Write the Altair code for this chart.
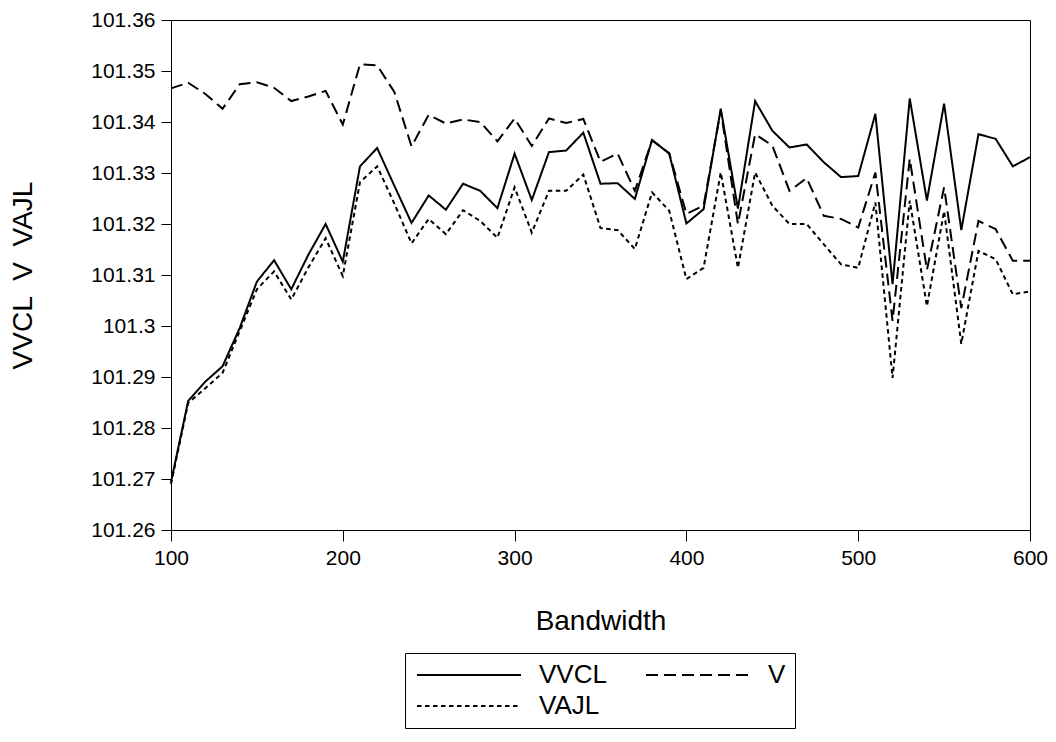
import altair as alt
import pandas as pd

bandwidth = [100, 110, 120, 130, 140, 150, 160, 170, 180, 190,
             200, 210, 220, 230, 240, 250, 260, 270, 280, 290,
             300, 310, 320, 330, 340, 350, 360, 370, 380, 390,
             400, 410, 420, 430, 440, 450, 460, 470, 480, 490,
             500, 510, 520, 530, 540, 550, 560, 570, 580, 590, 600]

vvcl = [101.2694, 101.2853, 101.2891, 101.2921, 101.2996, 101.3087, 101.3129, 101.3072, 101.3140, 101.3200,
        101.3126, 101.3313, 101.3349, 101.3275, 101.3202, 101.3256, 101.3228, 101.3279, 101.3265, 101.3231,
        101.3338, 101.3247, 101.3341, 101.3344, 101.3379, 101.3279, 101.3280, 101.3249, 101.3365, 101.3338,
        101.3201, 101.3229, 101.3426, 101.3230, 101.3441, 101.3383, 101.3350, 101.3356, 101.3321, 101.3292,
        101.3294, 101.3416, 101.3082, 101.3446, 101.3246, 101.3436, 101.3188, 101.3376, 101.3367, 101.3313,
        101.3331]

v = [101.3466, 101.3477, 101.3455, 101.3426, 101.3474, 101.3478, 101.3467, 101.3441, 101.3450, 101.3461,
     101.3395, 101.3513, 101.3511, 101.3459, 101.3352, 101.3414, 101.3397, 101.3405, 101.3400, 101.3362,
     101.3407, 101.3353, 101.3407, 101.3398, 101.3406, 101.3322, 101.3338, 101.3265, 101.3364, 101.3339,
     101.3220, 101.3236, 101.3423, 101.3200, 101.3376, 101.3354, 101.3265, 101.3290, 101.3216, 101.3210,
     101.3193, 101.3301, 101.3010, 101.3328, 101.3110, 101.3272, 101.3035, 101.3206, 101.3190, 101.3128,
     101.3128]

vajl = [101.2690, 101.2849, 101.2878, 101.2908, 101.2990, 101.3072, 101.3107, 101.3052, 101.3115, 101.3172,
        101.3098, 101.3282, 101.3313, 101.3240, 101.3162, 101.3210, 101.3180, 101.3227, 101.3206, 101.3173,
        101.3272, 101.3183, 101.3265, 101.3265, 101.3297, 101.3192, 101.3188, 101.3151, 101.3262, 101.3226,
        101.3092, 101.3114, 101.3301, 101.3114, 101.3301, 101.3236, 101.3200, 101.3200, 101.3160, 101.3121,
        101.3114, 101.3242, 101.2898, 101.3246, 101.3039, 101.3225, 101.2965, 101.3147, 101.3131, 101.3062,
        101.3068]

series_names = ["VVCL", "V", "VAJL"]
# legend is filled column by column: VVCL / VAJL in column 1, V in column 2
legend_order = ["VVCL", "VAJL", "V"]
legend_dashes = [[1, 0], [4.5, 3.5], [12, 6]]
x_ticks = [100, 200, 300, 400, 500, 600]
y_ticks = [101.26, 101.27, 101.28, 101.29, 101.30, 101.31, 101.32, 101.33, 101.34, 101.35, 101.36]

rows = []
for name, vals in zip(series_names, [vvcl, v, vajl]):
    for b, val in zip(bandwidth, vals):
        rows.append({"series": name, "bandwidth": b, "value": val})
df = pd.DataFrame(rows)

FONT = "Liberation Sans"
NB = "\u00a0"

chart = alt.Chart(df).mark_line(strokeWidth=2, color="black").encode(
    x=alt.X(
        "bandwidth:Q",
        scale=alt.Scale(domain=[100, 600], nice=False, zero=False),
        axis=alt.Axis(
            values=x_ticks, title="Bandwidth", grid=False, tickSize=11,
            labelPadding=6, labelFontSize=21, labelFlush=False, labelOverlap=False,
            titleFontSize=28, titleFontWeight="normal", titleX=429.5, titleY=91,
            titleBaseline="middle", titleAlign="center",
        ),
    ),
    y=alt.Y(
        "value:Q",
        scale=alt.Scale(domain=[101.26, 101.36], nice=False, zero=False),
        axis=alt.Axis(
            values=y_ticks, format=".5~r", title=f"VVCL{NB}{NB}V{NB}{NB}VAJL", grid=False,
            tickSize=10, labelPadding=6, labelFontSize=21, labelFlush=False,
            labelOverlap=False, titleFontSize=28, titleFontWeight="normal",
            titleX=-148, titleY=255, titleAngle=270, titleAlign="center",
            titleBaseline="middle",
        ),
    ),
    strokeDash=alt.StrokeDash(
        "series:N",
        scale=alt.Scale(domain=legend_order, range=legend_dashes),
        legend=alt.Legend(
            title=None, orient="none", legendX=234, legendY=633, columns=2,
            values=legend_order,
            symbolType="M-1,0H9.4", symbolSize=400, symbolStrokeWidth=2,
            symbolStrokeColor="black", labelFontSize=26, labelFont=FONT,
            labelColor="black", labelOffset=99, columnPadding=35, rowPadding=5,
            padding=9, strokeColor="black", fillColor="white", labelLimit=0,
        ),
    ),
).properties(
    width=859,
    height=510,
    autosize=alt.AutoSizeParams(type="none"),
    padding={"left": 163, "top": 12, "right": 18, "bottom": 204},
).configure_view(
    stroke="black", strokeWidth=1
).configure_axis(
    domainColor="black", tickColor="black", labelColor="black", titleColor="black",
    labelFont=FONT, titleFont=FONT, domainWidth=1, tickWidth=1,
)

chart.save("out.html", embed_options={"renderer": "svg", "actions": False})
